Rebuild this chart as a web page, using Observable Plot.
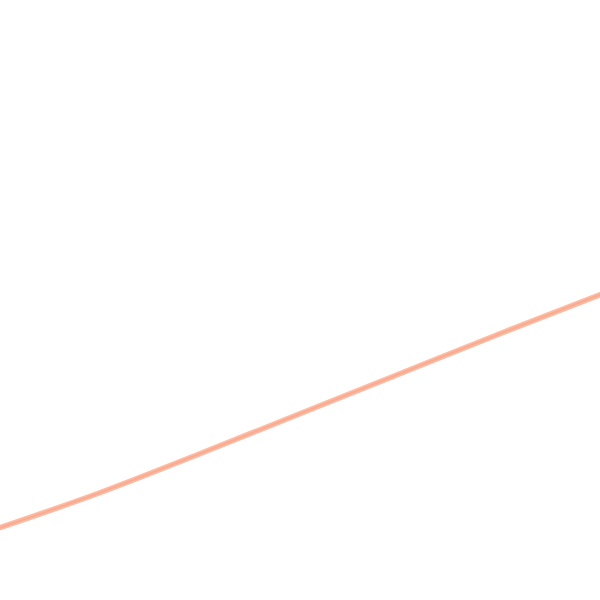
<!DOCTYPE html>
<html>
<head>
<meta charset="utf-8">
<script src="https://cdn.jsdelivr.net/npm/d3@7"></script>
<script src="https://cdn.jsdelivr.net/npm/@observablehq/plot@0.6"></script>
<style>
  html, body { margin: 0; padding: 0; background: #fff; overflow: hidden; }
</style>
</head>
<body>
<div id="chart"></div>
<script>
const steps = [0, 1, 2, 3, 4, 5, 6];
const values = [73, 108, 147, 187, 227, 267, 306];

const data = steps.map((s, i) => ({ s, v: values[i] }));

const chart = Plot.plot({
  width: 600,
  height: 600,
  margin: 0,
  x: { domain: [0, 6], axis: null },
  y: { domain: [0, 600], axis: null },
  marks: [
    Plot.line(data, {
      x: "s",
      y: "v",
      stroke: "#fcbba1",
      strokeWidth: 5.5,
      curve: "monotone-x"
    }),
    Plot.line(data, {
      x: "s",
      y: "v",
      stroke: "#fbaa92",
      strokeWidth: 2,
      curve: "monotone-x"
    })
  ]
});
document.getElementById("chart").appendChild(chart);
</script>
</body>
</html>
